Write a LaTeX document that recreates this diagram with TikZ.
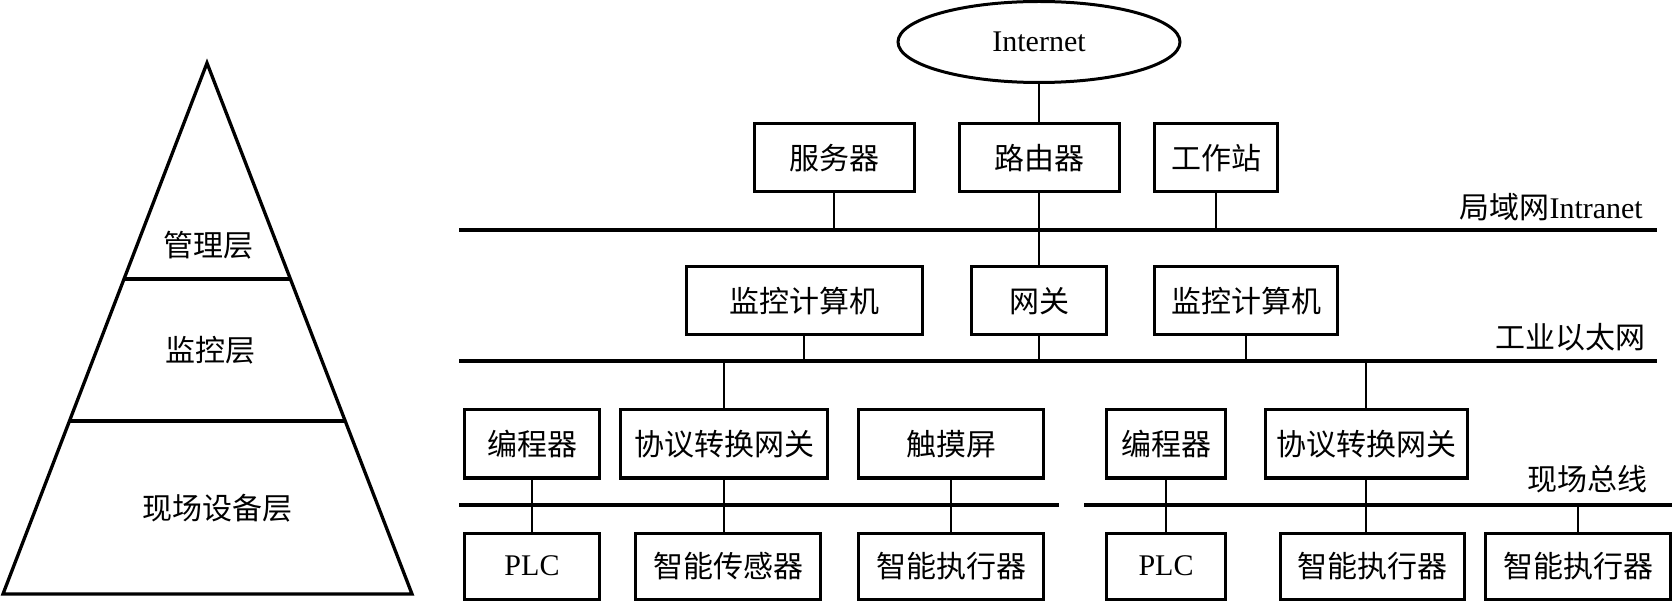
\documentclass[tikz,border=0pt]{standalone}
\usepackage{fontspec}
\setmainfont{Liberation Serif}
\newfontfamily\cjk{Noto Sans CJK SC}
\newcommand{\zh}[1]{{\cjk #1}}
\usetikzlibrary{shapes.geometric}
\tikzset{
  box/.style={draw, line width=3pt, minimum height=68pt, inner sep=0pt, font=\fontsize{30}{36}\selectfont},
  ell/.style={draw, ellipse, line width=3pt, minimum width=282pt, minimum height=81pt, inner sep=0pt, font=\fontsize{30}{36}\selectfont},
  bus/.style={line width=3.4pt},
  link/.style={line width=1.6pt},
  lbl/.style={inner sep=0pt, font=\fontsize{30}{36}\selectfont},
  pyr/.style={line width=3.3pt, line join=miter},
}
\begin{document}
\begin{tikzpicture}[x=1pt, y=-1pt]
\useasboundingbox (0,0) rectangle (1674,601);
% pyramid
\coordinate (apex) at (207,63);
\coordinate (bl) at (3,594);
\coordinate (br) at (412,594);
\draw[pyr] (apex) -- (bl) -- (br) -- cycle;
\coordinate (l1a) at (124,279); \coordinate (l1b) at (290,279);
\coordinate (l2a) at (69.5,421); \coordinate (l2b) at (345,421);
\draw[pyr] (l1a) -- (l1b);
\draw[pyr] (l2a) -- (l2b);
\node[lbl] (mgmt) at (208,245) {\zh{管理层}};
\node[lbl] (mon) at (210,350) {\zh{监控层}};
\node[lbl] (field) at (217,508) {\zh{现场设备层}};

% buses
\coordinate (lanL) at (459,230); \coordinate (lanR) at (1657,230);
\coordinate (ethL) at (459,361); \coordinate (ethR) at (1657,361);
\coordinate (fbL1) at (459,505); \coordinate (fbL2) at (1059,505);
\coordinate (fbR1) at (1084,505); \coordinate (fbR2) at (1672,505);
\draw[bus] (lanL) -- (lanR);
\draw[bus] (ethL) -- (ethR);
\draw[bus] (fbL1) -- (fbL2);
\draw[bus] (fbR1) -- (fbR2);
\node[lbl, anchor=east] (lanlbl) at (1643,207) {\zh{局域网}Intranet};
\node[lbl, anchor=east] (ethlbl) at (1646,337) {\zh{工业以太网}};
\node[lbl, anchor=east] (fblbl) at (1648,479) {\zh{现场总线}};

% nodes
\node[ell] (inet) at (1039,42) {Internet};
\node[box, minimum width=160pt] (srv) at (834,158) {\zh{服务器}};
\node[box, minimum width=160pt] (rtr) at (1039,158) {\zh{路由器}};
\node[box, minimum width=123pt] (ws) at (1216,158) {\zh{工作站}};
\node[box, minimum width=236pt] (monL) at (804,301) {\zh{监控计算机}};
\node[box, minimum width=135pt] (gw) at (1039,301) {\zh{网关}};
\node[box, minimum width=183pt] (monR) at (1246,301) {\zh{监控计算机}};
\node[box, minimum width=135pt] (prgL) at (532,444) {\zh{编程器}};
\node[box, minimum width=207pt] (pgwL) at (724,444) {\zh{协议转换网关}};
\node[box, minimum width=185pt] (touch) at (951,444) {\zh{触摸屏}};
\node[box, minimum width=119pt] (prgR) at (1166,444) {\zh{编程器}};
\node[box, minimum width=202pt] (pgwR) at (1366,444) {\zh{协议转换网关}};
\node[box, minimum width=135pt, minimum height=66pt] (plcL) at (532,566) {PLC};
\node[box, minimum width=185pt, minimum height=66pt] (sens) at (728,566) {\zh{智能传感器}};
\node[box, minimum width=185pt, minimum height=66pt] (actL) at (951,566) {\zh{智能执行器}};
\node[box, minimum width=119pt, minimum height=66pt] (plcR) at (1166,566) {PLC};
\node[box, minimum width=184pt, minimum height=66pt] (actR1) at (1372,566) {\zh{智能执行器}};
\node[box, minimum width=185pt, minimum height=66pt] (actR2) at (1578,566) {\zh{智能执行器}};

% connectors
\draw[link] (inet.south) -- (rtr.north);
\draw[link] (rtr.south) -- (gw.north);
\draw[link] (srv.south) -- (srv.south |- lanL);
\draw[link] (ws.south) -- (ws.south |- lanL);
\draw[link] (monL.south) -- (monL.south |- ethL);
\draw[link] (gw.south) -- (gw.south |- ethL);
\draw[link] (monR.south) -- (monR.south |- ethL);
\draw[link] (pgwL.north |- ethL) -- (pgwL.north);
\draw[link] (pgwR.north |- ethL) -- (pgwR.north);
\draw[link] (prgL.south) -- (plcL.north);
\draw[link] (pgwL.south) -- (pgwL.south |- sens.north);
\draw[link] (touch.south) -- (actL.north);
\draw[link] (prgR.south) -- (plcR.north);
\draw[link] (pgwR.south) -- (pgwR.south |- actR1.north);
\draw[link] (actR2.north |- fbR1) -- (actR2.north);
\end{tikzpicture}
\end{document}
